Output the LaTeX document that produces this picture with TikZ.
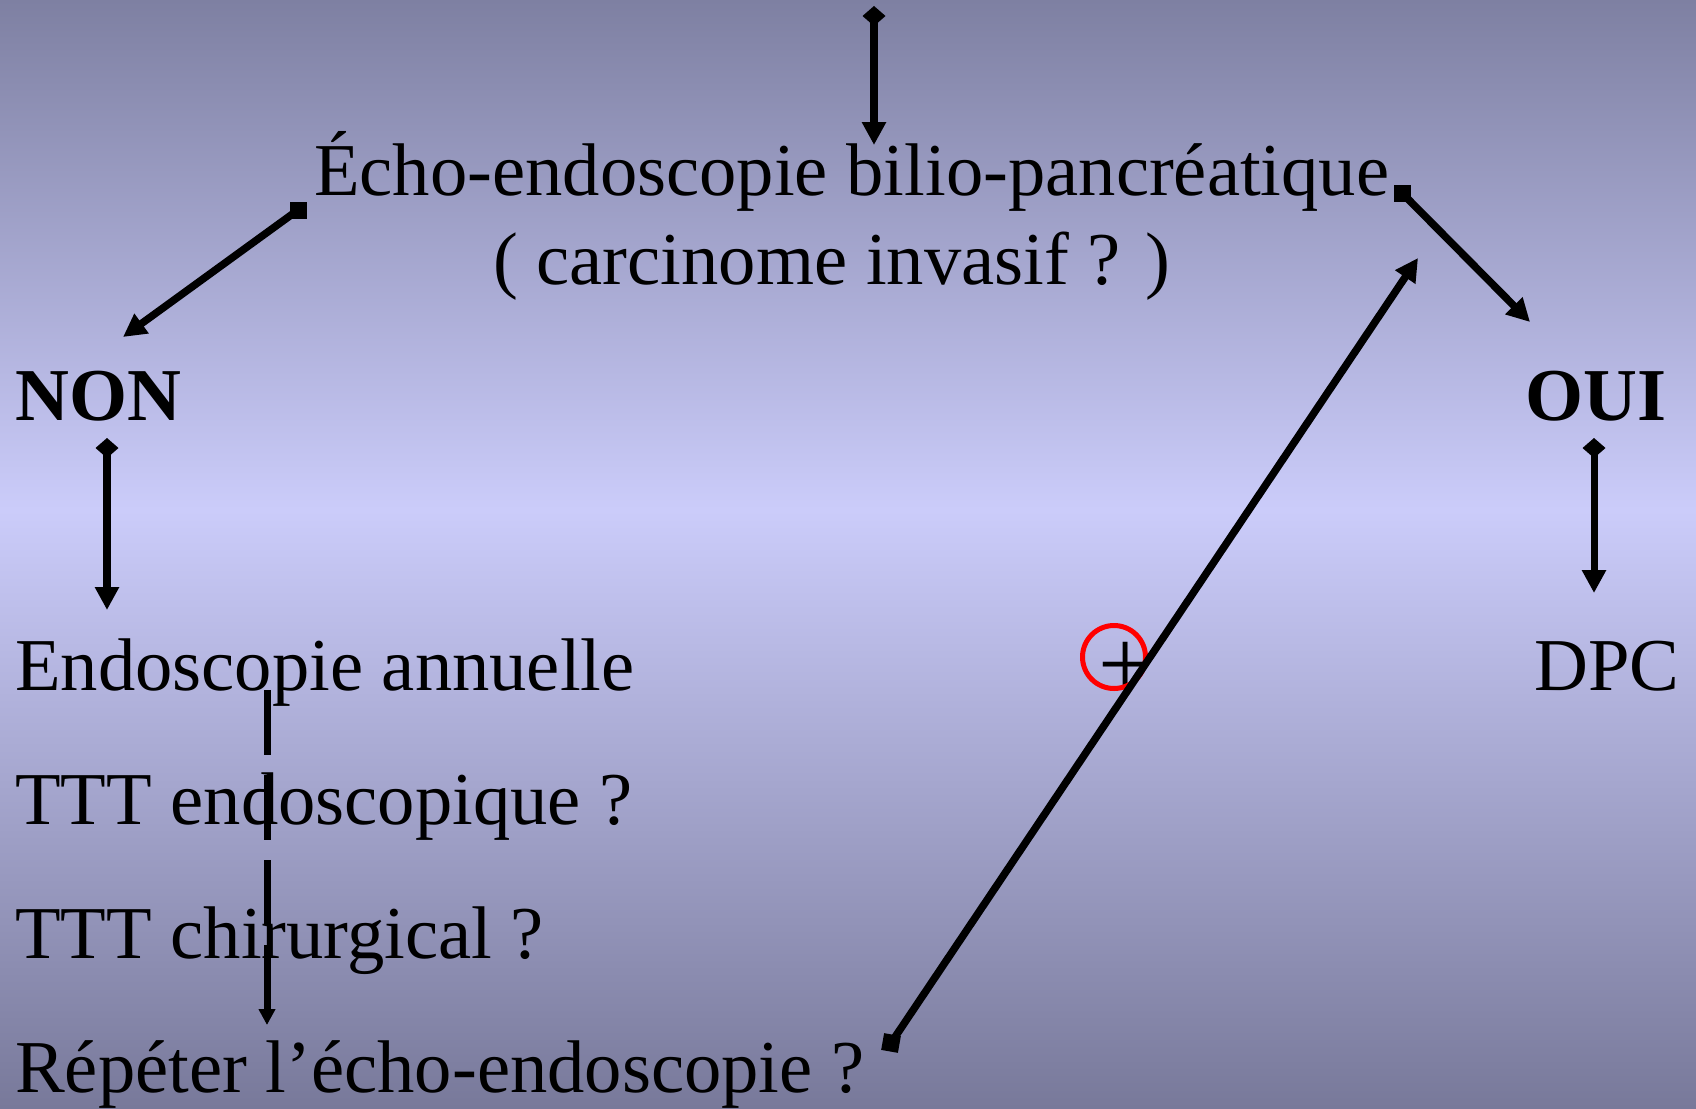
\documentclass[tikz,border=0pt]{standalone}
\usepackage{fontspec}
\setmainfont{Liberation Serif}
\usetikzlibrary{arrows.meta}
\definecolor{bgtop}{RGB}{126,128,162}
\definecolor{bgmid}{RGB}{203,204,250}
\definecolor{bgbot}{RGB}{120,121,154}
\pgfdeclareverticalshading{slidebg}{100bp}{color(0bp)=(bgbot); color(25bp)=(bgbot); color(52bp)=(bgmid); color(75bp)=(bgtop); color(100bp)=(bgtop)}
\tikzset{
  txt/.style={anchor=base west, inner sep=0pt, font=\fontsize{74.6}{80}\selectfont},
  btxt/.style={txt, font=\fontsize{74.6}{80}\selectfont\bfseries},
  conn/.style={line width=7.5pt, black},
  diamondstart/.style={{Diamond[length=20pt,width=23pt]}-{Triangle[length=23pt,width=23pt]}},
  tipend/.style={-{Triangle[length=23pt,width=23pt]}},
  sqr/.style={rectangle, fill=black, minimum size=17pt, inner sep=0pt},
}
\begin{document}
\begin{tikzpicture}[x=1pt,y=-1pt]
\useasboundingbox (0,0) rectangle (1696,1108);
\fill[shading=slidebg] (0,0) rectangle (1696,1108);

% texts
\node[txt] (title1) at (314,195) {Écho-endoscopie bilio-pancréatique};
\node[txt] (title2) at (493,284) {( carcinome invasif ? )};
\node[btxt] (non) at (15,420) {NON};
\node[btxt] (oui) at (1525,420) {OUI};
\node[txt] (endo) at (15,690) {Endoscopie annuelle};
\node[txt] (tttendo) at (15,824) {TTT endoscopique ?};
\node[txt] (tttchir) at (15,958) {TTT chirurgical ?};
\node[txt] (repeter) at (15,1092) {Répéter l’écho-endoscopie ?};
\node[txt] (dpc) at (1534,690) {DPC};
\node[anchor=center, inner sep=0pt, font=\fontsize{96}{100}\selectfont] (plus) at (1126,669) {+};
\node[circle, draw=red, line width=5pt, minimum size=63pt, inner sep=0pt] (ring) at (1114,657) {};

% square starts
\node[sqr] (sqL) at (298,210) {};
\node[sqr] (sqR) at (1402,193) {};
\node[sqr, rotate=-10] (sqB) at (891,1043) {};

% connector end points
\coordinate (topa) at (874,6);
\coordinate (topb) at (874,145);
\coordinate (ldb) at (123,337);
\coordinate (rdb) at (1530,322);
\coordinate (longb) at (1418,258);
\coordinate (nona) at (107,438);
\coordinate (nonb) at (107,610);
\coordinate (ouia) at (1594,438);
\coordinate (ouib) at (1594,593);
\coordinate (dasha) at (267,690);
\coordinate (dashb) at (267,1025);

% connectors
\draw[conn, diamondstart] (topa) -- (topb);
\draw[conn, tipend] (sqL.center) -- (ldb);
\draw[conn, tipend] (sqR.center) -- (rdb);
\draw[conn, tipend] (sqB.center) -- (longb);
\draw[conn, diamondstart] (nona) -- (nonb);
\draw[conn, line width=7pt, diamondstart] (ouia) -- (ouib);
\draw[conn, line width=7pt, dash pattern=on 65pt off 20pt, -{Triangle[length=16pt,width=16pt]}] (dasha) -- (dashb);
\end{tikzpicture}
\end{document}
